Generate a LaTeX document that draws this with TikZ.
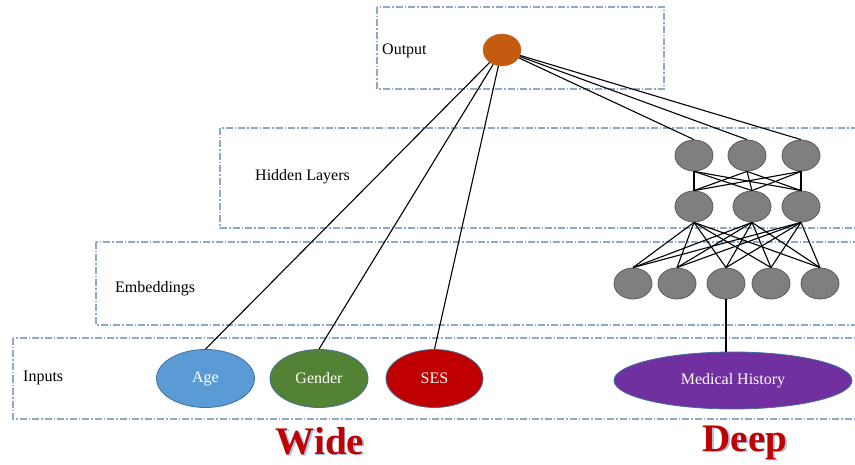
\documentclass[tikz,border=0pt]{standalone}
\usepackage{fontspec}
\setmainfont{Liberation Serif}
\usetikzlibrary{shapes.geometric}

\definecolor{boxblue}{HTML}{8EA9C8}
\definecolor{neurongray}{HTML}{7F7F7F}
\definecolor{outorange}{HTML}{C55A11}
\definecolor{agefill}{HTML}{5B9BD5}
\definecolor{genderfill}{HTML}{548235}
\definecolor{sesfill}{HTML}{C00000}
\definecolor{histfill}{HTML}{7030A0}
\definecolor{rimblue}{HTML}{41719C}
\definecolor{titlered}{HTML}{C00000}
\definecolor{shadowblue}{HTML}{9DC3E6}

\tikzset{
  layerbox/.style={draw=boxblue, line width=1.1pt, dash pattern=on 7pt off 2pt on 1.5pt off 2pt},
  neuron/.style={ellipse, draw=black!65, line width=0.8pt, fill=neurongray,
    minimum width=38pt, minimum height=31pt, inner sep=0pt},
  link/.style={black, line width=1.1pt},
  feature/.style={ellipse, draw=rimblue, line width=0.8pt, text=white,
    font=\fontsize{16}{18}\selectfont, minimum height=58pt, inner sep=0pt},
  layerlabel/.style={font=\fontsize{16}{18}\selectfont, anchor=west, inner sep=0pt},
  bigword/.style={font=\fontsize{39}{42}\selectfont\bfseries, anchor=base, inner sep=0pt}
}

\begin{document}
\begin{tikzpicture}[x=1pt, y=-1pt]
  \useasboundingbox (0,0) rectangle (855,465);
  \clip (0,0) rectangle (855,465);

  % layer frames
  \draw[layerbox] (377,7) rectangle (664,89);
  \draw[layerbox] (220,128) rectangle (870,228);
  \draw[layerbox] (96,242) rectangle (870,325);
  \draw[layerbox] (13,338) rectangle (870,419);

  % layer names
  \node[layerlabel] (lout) at (382,51) {Output};
  \node[layerlabel] (lhid) at (255,177) {Hidden Layers};
  \node[layerlabel] (lemb) at (115,289) {Embeddings};
  \node[layerlabel] (linp) at (23,378) {Inputs};

  % output unit
  \node[ellipse, draw=outorange!90!white, fill=outorange, minimum width=38pt,
        minimum height=32pt, inner sep=0pt] (out) at (502,50) {};

  % hidden layers
  \node[neuron] (h11) at (694,155.5) {};
  \node[neuron] (h12) at (747,155.5) {};
  \node[neuron] (h13) at (801,155.5) {};
  \node[neuron] (h21) at (694,206.5) {};
  \node[neuron] (h22) at (752,206.5) {};
  \node[neuron] (h23) at (801,206.5) {};

  % embeddings
  \node[neuron] (e1) at (633,283.5) {};
  \node[neuron] (e2) at (677,283.5) {};
  \node[neuron] (e3) at (726,283.5) {};
  \node[neuron] (e4) at (771,283.5) {};
  \node[neuron] (e5) at (820,283.5) {};

  % inputs
  \node[feature, fill=agefill, minimum width=98pt] (age) at (205.5,378.5) {Age};
  \node[feature, fill=genderfill, minimum width=98pt] (gender) at (319,378.5) {Gender};
  \node[feature, fill=sesfill, minimum width=97pt] (ses) at (434.5,378.5) {SES};
  \node[feature, fill=histfill, minimum width=238pt, minimum height=57pt] (hist) at (733,380.5) {Medical History};

  % wide part
  \draw[link] (out) -- (age.north);
  \draw[link] (out) -- (gender.north);
  \draw[link] (out) -- (ses.north);

  % deep part
  \foreach \h in {h11,h12,h13}
    \draw[link] (out) -- (\h.north);
  \foreach \a in {h11,h12,h13}
    \foreach \b in {h21,h22,h23}
      \draw[link] (\a.south) -- (\b.north);
  \foreach \a in {h21,h22,h23}
    \foreach \b in {e1,e2,e3,e4,e5}
      \draw[link] (\a.south) -- (\b.north);
  \draw[link] (e3.south) -- (e3.south |- hist.north);

  % captions with soft shadow
  \node[bigword, text=shadowblue] at (321.5,455.5) {Wide};
  \node[bigword, text=titlered] (wide) at (320,454) {Wide};
  \node[bigword, text=shadowblue] at (746.5,452.5) {Deep};
  \node[bigword, text=titlered] (deep) at (745,451) {Deep};
\end{tikzpicture}
\end{document}
